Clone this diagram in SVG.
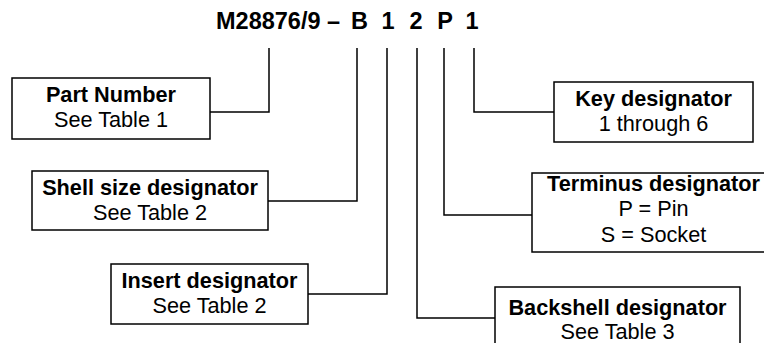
<svg xmlns="http://www.w3.org/2000/svg" width="764" height="343" viewBox="0 0 764 343">
<style>
text{font-family:"Liberation Sans",Arial,sans-serif;fill:#000;text-anchor:middle}
.t{font-size:23.5px;font-weight:bold}
.b{font-size:21.7px;font-weight:bold}
.r{font-size:21.7px}
.box{fill:#fff;stroke:#000;stroke-width:1.5}
.c{fill:none;stroke:#000;stroke-width:1.5}
</style>
<rect width="764" height="343" fill="#fff"/>
<g id="title">
<text class="t" x="216" y="29" style="text-anchor:start">M28876/9 –</text>
<text class="t" x="359.5" y="29">B</text>
<text class="t" x="388" y="29">1</text>
<text class="t" x="416" y="29">2</text>
<text class="t" x="445" y="29">P</text>
<text class="t" x="472" y="29">1</text>
</g>
<g id="connectors">
<polyline class="c" points="269,48 269,112 210,112"/>
<polyline class="c" points="357,48 357,201 268,201"/>
<polyline class="c" points="387,48 387,294 308,294"/>
<polyline class="c" points="417,48 417,318 495,318"/>
<polyline class="c" points="444,48 444,215 532,215"/>
<polyline class="c" points="474,48 474,112 554,112"/>
</g>
<g id="part-number">
<rect class="box" x="12" y="78" width="198" height="61"/>
<text class="b" x="111" y="102">Part Number</text>
<text class="r" x="111" y="127">See Table 1</text>
</g>
<g id="shell-size">
<rect class="box" x="32" y="171" width="236" height="59"/>
<text class="b" x="150" y="195">Shell size designator</text>
<text class="r" x="150" y="220">See Table 2</text>
</g>
<g id="insert">
<rect class="box" x="111" y="264" width="197" height="60"/>
<text class="b" x="209.5" y="288">Insert designator</text>
<text class="r" x="209.5" y="313">See Table 2</text>
</g>
<g id="key">
<rect class="box" x="554" y="82" width="199" height="60"/>
<text class="b" x="653.5" y="106">Key designator</text>
<text class="r" x="653.5" y="131">1 through 6</text>
</g>
<g id="terminus">
<rect class="box" x="532" y="173" width="245" height="79"/>
<text class="b" x="653.5" y="191">Terminus designator</text>
<text class="r" x="653.5" y="216">P = Pin</text>
<text class="r" x="653.5" y="242">S = Socket</text>
</g>
<g id="backshell">
<rect class="box" x="495" y="287" width="245" height="70"/>
<text class="b" x="617.5" y="315">Backshell designator</text>
<text class="r" x="617.5" y="339">See Table 3</text>
</g>
</svg>
